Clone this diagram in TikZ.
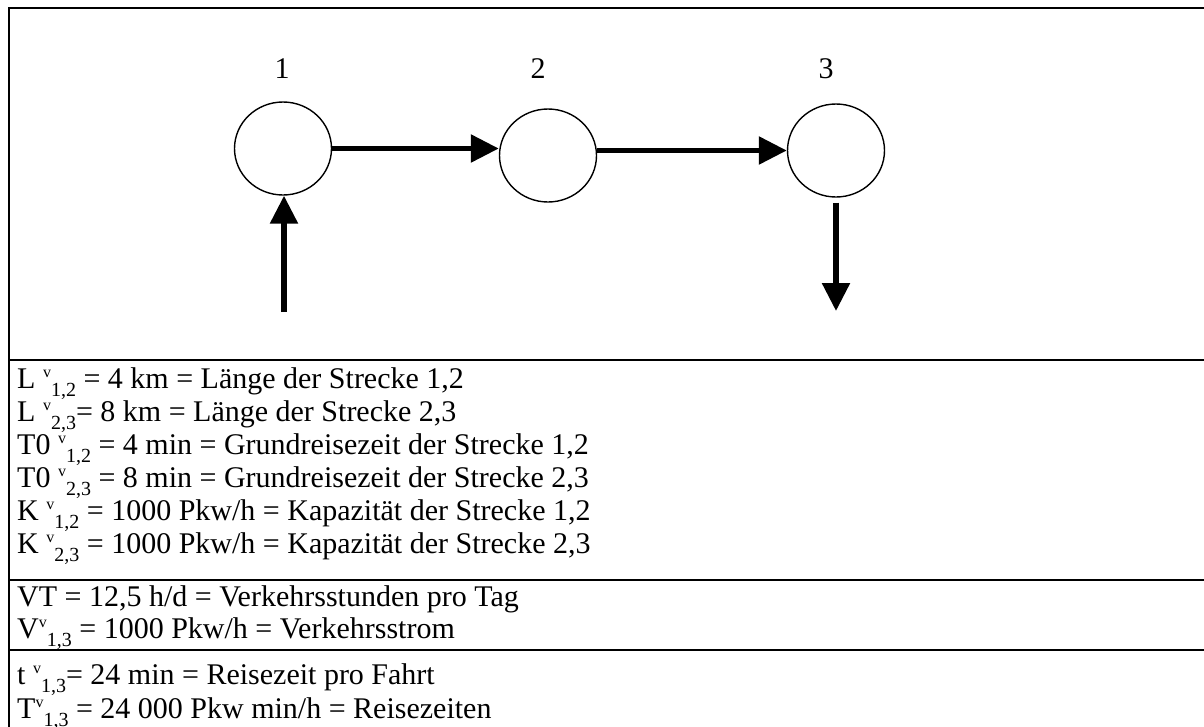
\documentclass[tikz,border=0pt]{standalone}
\usepackage{fontspec}
\setmainfont{Liberation Serif}
\usetikzlibrary{arrows.meta,shapes.geometric}
\newcommand{\vsub}[1]{\raisebox{0.36em}{\fontsize{16}{16}\selectfont v}\raisebox{-0.28em}{\fontsize{20}{20}\selectfont #1}}
\begin{document}
\begin{tikzpicture}[x=1pt,y=-1pt,
  frameline/.style={line width=2pt,line cap=rect},
  knoten/.style={ellipse,draw,line width=1.4pt,minimum width=97pt,minimum height=93pt,inner sep=0pt},
  flow/.style={line width=5.5pt,-{Triangle[length=28pt,width=27pt]}},
  zeile/.style={anchor=base west,inner sep=0pt,font=\fontsize{30}{30}\selectfont},
  nummer/.style={anchor=base,inner sep=0pt,font=\fontsize{30}{30}\selectfont}]
\useasboundingbox (0,0) rectangle (1204,726);
% frame
\draw[frameline] (1206,8) -- (9,8) -- (9,728);
\draw[frameline] (9,360) -- (1206,360);
\draw[frameline] (9,580) -- (1206,580);
\draw[frameline] (9,650) -- (1206,650);
% nodes
\node[knoten] (c1) at (283,148.5) {};
\node[knoten] (c2) at (548,155.5) {};
\node[knoten] (c3) at (836,150.5) {};
\node[nummer] (n1) at (282,78) {1};
\node[nummer] (n2) at (538,78) {2};
\node[nummer] (n3) at (826,78) {3};
\coordinate (in) at (284,312);
\coordinate (out) at (836,311);
% connectors
\draw[flow] (c1.east) -- (c1.east -| c2.west);
\draw[flow] (c3.west -| c2.east) -- (c3.west);
\draw[flow] (in) -- (in |- c1.south);
\draw[flow] ([yshift=-5pt]c3.south) -- (out);
% text rows
\node[zeile] (r1) at (17,388) {L \vsub{1,2} = 4 km = Länge der Strecke 1,2};
\node[zeile] (r2) at (17,421) {L \vsub{2,3}= 8 km = Länge der Strecke 2,3};
\node[zeile] (r3) at (17,454) {T0 \vsub{1,2} = 4 min = Grundreisezeit der Strecke 1,2};
\node[zeile] (r4) at (17,487) {T0 \vsub{2,3} = 8 min = Grundreisezeit der Strecke 2,3};
\node[zeile] (r5) at (17,520) {K \vsub{1,2} = 1000 Pkw/h = Kapazität der Strecke 1,2};
\node[zeile] (r6) at (17,553) {K \vsub{2,3} = 1000 Pkw/h = Kapazität der Strecke 2,3};
\node[zeile] (r7) at (17,606) {VT = 12,5 h/d = Verkehrsstunden pro Tag};
\node[zeile] (r8) at (17,638) {V\vsub{1,3} = 1000 Pkw/h = Verkehrsstrom};
\node[zeile] (r9) at (17,684) {t \vsub{1,3}= 24 min = Reisezeit pro Fahrt};
\node[zeile] (r10) at (17,718) {T\vsub{1,3} = 24 000 Pkw min/h = Reisezeiten};
\end{tikzpicture}
\end{document}
